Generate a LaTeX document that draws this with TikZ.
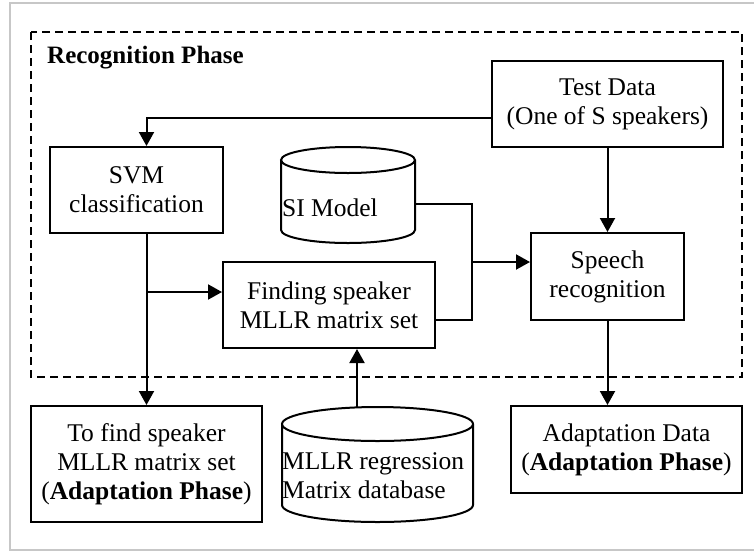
\documentclass[tikz,border=0pt]{standalone}
\usepackage{fontspec}
\setmainfont{Liberation Serif}
\usetikzlibrary{arrows.meta,calc}

\tikzset{
  txt/.style={font=\fontsize{25.5}{29}\selectfont, align=center, inner sep=0pt},
  box/.style={txt, draw, line width=2pt, minimum width=#1},
  cylbody/.style={inner sep=0pt, minimum width=#1},
  cylline/.style={draw, line width=2pt},
  wire/.style={line width=2pt},
  arr/.style={wire, -{Triangle[length=14pt,width=15pt]}},
  phase/.style={draw, line width=2pt, dash pattern=on 8pt off 5pt},
  frame/.style={draw=black!22, line width=2pt}
}

\begin{document}
\begin{tikzpicture}[x=1pt,y=-1pt]
  \useasboundingbox (0,0) rectangle (754,552);

  % outer frame (open on the right)
  \draw[frame] (754,3) -- (10,3) -- (10,550) -- (754,550);

  % recognition phase region
  \draw[phase] (31,32) rectangle (742,377);
  \node[txt, anchor=base west, font=\fontsize{25}{29}\selectfont\bfseries] (title) at (47,63) {Recognition Phase};

  % process boxes
  \node[box=173pt, minimum height=86pt] (svm) at (136.5,190) {SVM\\classification};
  \node[box=231pt, minimum height=86pt] (test) at (607.5,104) {Test Data\\(One of S speakers)};
  \node[box=153pt, minimum height=87pt] (speech) at (607.5,276.5) {Speech\\recognition};
  \node[box=212pt, minimum height=86pt] (finding) at (329,305) {Finding speaker\\MLLR matrix set};
  \node[box=231pt, minimum height=116pt] (tofind) at (146.5,464) {To find speaker\\MLLR matrix set\\(\textbf{Adaptation Phase})};
  \node[box=231pt, minimum height=87pt] (adapt) at (626.5,449.5) {Adaptation Data\\(\textbf{Adaptation Phase})};

  % SI model store
  \node[cylbody=134pt, minimum height=96pt] (si) at (348,195) {};
  \draw[cylline] (281,160) -- (281,230)
    arc[start angle=180, end angle=360, x radius=67pt, y radius=13pt] -- (415,160)
    arc[start angle=0, end angle=180, x radius=67pt, y radius=13pt]
    arc[start angle=180, end angle=360, x radius=67pt, y radius=13pt];
  \node[txt, anchor=west] (silabel) at (282,208) {SI Model};

  % MLLR regression matrix store
  \node[cylbody=191pt, minimum height=115pt] (mllr) at (377.5,464.5) {};
  \draw[cylline] (282,424) -- (282,505)
    arc[start angle=180, end angle=360, x radius=95.5pt, y radius=17pt] -- (473,424)
    arc[start angle=0, end angle=180, x radius=95.5pt, y radius=17pt]
    arc[start angle=180, end angle=360, x radius=95.5pt, y radius=17pt];
  \node[txt, anchor=west, align=left] (mllrlabel) at (282,476) {MLLR regression\\Matrix database};

  % connection points
  \path (finding.west) ++(0,-13) coordinate (fin-in);
  \path (finding.east) ++(0,15) coordinate (fin-out);
  \path (finding.south) ++(28,0) coordinate (fin-bot);
  \path (speech.west) ++(0,-14.5) coordinate (sp-in);
  \coordinate (jn) at (472,262);

  % connectors
  \draw[arr] ($(test.west)+(0,14)$) -| ($(svm.north)+(10,0)$);
  \draw[arr] (test.south) -- (speech.north);
  \draw[arr] (tofind.north |- svm.south) -- (tofind.north);
  \draw[arr] (fin-in -| tofind.north) -- (fin-in);
  \draw[wire] ($(si.east)+(0,9)$) -| (jn) |- (fin-out);
  \draw[arr] (jn) -- (sp-in);
  \draw[arr] (fin-bot |- mllr.north) -- (fin-bot);
  \draw[arr] (speech.south) -- (speech.south |- adapt.north);
\end{tikzpicture}
\end{document}
